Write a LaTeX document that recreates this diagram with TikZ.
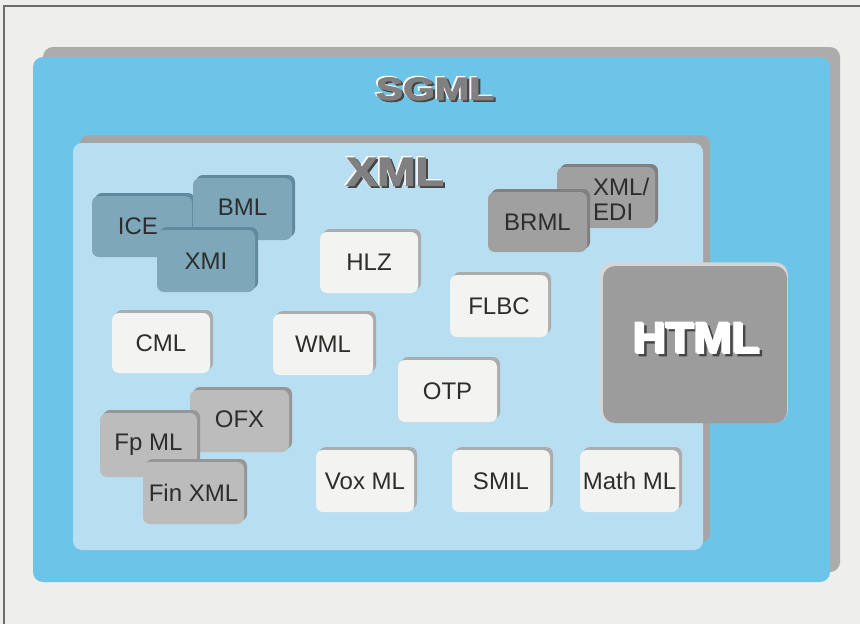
\documentclass[tikz,border=0pt]{standalone}
\usepackage{fontspec}
\usepackage{graphicx}
\setmainfont{Liberation Sans}
\newfontfamily\heavyfont[FakeBold=3]{Liberation Sans Bold}
\usetikzlibrary{shadows}
\definecolor{pagebg}{RGB}{238,238,236}
\definecolor{frameline}{RGB}{110,110,110}
\definecolor{sgmlblue}{RGB}{109,196,233}
\definecolor{sgmlband}{RGB}{172,172,172}
\definecolor{xmlblue}{RGB}{183,222,241}
\definecolor{xmlband}{RGB}{165,165,165}
\definecolor{tealbox}{RGB}{126,168,186}
\definecolor{tealshadow}{RGB}{96,138,158}
\definecolor{darkgraybox}{RGB}{160,160,160}
\definecolor{darkgrayshadow}{RGB}{128,128,128}
\definecolor{graybox}{RGB}{188,188,188}
\definecolor{grayshadow}{RGB}{150,150,150}
\definecolor{whitebox}{RGB}{243,243,242}
\definecolor{whiteshadow}{RGB}{172,172,172}
\definecolor{htmlbox}{RGB}{156,156,156}
\definecolor{htmlrim}{RGB}{214,214,214}
\definecolor{txt}{RGB}{45,45,45}
\definecolor{titlegray}{RGB}{128,128,128}
\definecolor{titledark}{RGB}{70,70,70}
\newcommand\lblfont{\fontsize{24}{25}\selectfont}
% text with a dark drop shadow (down-right) and a white highlight (up-left)
\newcommand\embossed[5]{% text, main, light, dark, offset
  \makebox[0pt][l]{\hspace{#5}\raisebox{-#5}{\textcolor{#4}{#1}}}%
  \makebox[0pt][l]{\hspace{-1.3pt}\raisebox{1.3pt}{\textcolor{#3}{#1}}}%
  \textcolor{#2}{#1}}
\begin{document}
\begin{tikzpicture}[x=1pt,y=-1pt,
  box/.style={rounded corners=7pt, minimum width=98pt, minimum height=61pt,
    inner sep=0pt, font=\lblfont, text=txt},
  whiteb/.style={box, fill=whitebox,
    general shadow={fill=whiteshadow, shadow xshift=3pt, shadow yshift=3pt}},
  tealb/.style={box, fill=tealbox,
    general shadow={fill=tealshadow, shadow xshift=3pt, shadow yshift=3pt}},
  dgrayb/.style={box, fill=darkgraybox,
    general shadow={fill=darkgrayshadow, shadow xshift=3pt, shadow yshift=3pt}},
  grayb/.style={box, fill=graybox,
    general shadow={fill=grayshadow, shadow xshift=3pt, shadow yshift=3pt}},
  lbl/.style={inner sep=0pt, font=\lblfont, text=txt, align=left},
  title/.style={inner sep=0pt}
]
\useasboundingbox (0,0) rectangle (860,624);
\fill[pagebg] (0,0) rectangle (860,624);
\draw[frameline, line width=1.2pt] (4,624) -- (4,6) -- (860,6);

% SGML container
\node[rounded corners=10pt, fill=sgmlblue, minimum width=797pt, minimum height=525pt,
  general shadow={fill=sgmlband, shadow xshift=10pt, shadow yshift=10pt}]
  (sgml) at (431.5,319.5) {};
\node[title] (sgmlt) at (435,89)
  {\scalebox{1.28}[1]{\fontsize{32}{32}\heavyfont\embossed{SGML}{titlegray}{white}{titledark}{1.6pt}}};

% XML container
\node[rounded corners=9pt, fill=xmlblue, minimum width=630pt, minimum height=407pt,
  general shadow={fill=xmlband, shadow xshift=7pt, shadow yshift=8pt}]
  (xml) at (388,346.5) {};
\node[title] (xmlt) at (395,172)
  {\scalebox{1.15}[1]{\fontsize{40}{40}\heavyfont\embossed{XML}{titlegray}{white}{titledark}{1.8pt}}};

% teal cluster
\node[tealb, minimum width=100pt] (ice) at (142,226.5) {\hspace*{-8pt}ICE};
\node[tealb, minimum width=99pt, minimum height=62pt] (bml) at (242.5,209) {\raisebox{3pt}{BML}};
\node[tealb, minimum height=62pt] (xmi) at (206,261) {XMI};

% white boxes
\node[whiteb, minimum height=61pt] (hlz) at (369,262.5) {HLZ};
\node[whiteb, minimum height=60pt] (cml) at (161,343) {CML};
\node[whiteb, minimum width=100pt] (wml) at (323,344.5) {WML};
\node[whiteb, minimum height=62pt] (flbc) at (499,306) {FLBC};
\node[whiteb, minimum width=99pt, minimum height=62pt] (otp) at (447.5,391) {OTP};

% dark gray cluster
\node[dgrayb] (xmledi) at (606,197.5) {};
\node[lbl, anchor=west] (xmledit) at (593,199) {XML/\\EDI};
\node[dgrayb, minimum width=99pt, minimum height=60pt] (brml) at (537.5,222) {BRML};

% light gray cluster
\node[grayb, minimum width=99pt, minimum height=62pt] (ofx) at (239.5,421) {\raisebox{3pt}{OFX}};
\node[grayb, minimum width=97pt, minimum height=64pt] (fpml) at (148.5,445) {Fp ML};
\node[grayb, minimum width=101pt, minimum height=62pt] (finxml) at (193.5,493) {Fin XML};

% bottom row
\node[whiteb, minimum height=62pt] (voxml) at (365,481) {Vox ML};
\node[whiteb, minimum height=62pt] (smil) at (501,481) {SMIL};
\node[whiteb, minimum width=99pt, minimum height=62pt] (mathml) at (629.5,481) {Math ML};

% HTML
\node[rounded corners=12pt, fill=htmlbox, minimum width=184pt, minimum height=157pt,
  general shadow={fill=htmlrim, shadow xshift=-1pt, shadow yshift=2pt, shadow scale=1.02}]
  (html) at (695,344.5) {};
\node[title] (htmlt) at (697,339)
  {\scalebox{1.06}[1]{\fontsize{43}{43}\heavyfont\embossed{HTML}{white}{white}{titledark}{2.4pt}}};
\end{tikzpicture}
\end{document}
